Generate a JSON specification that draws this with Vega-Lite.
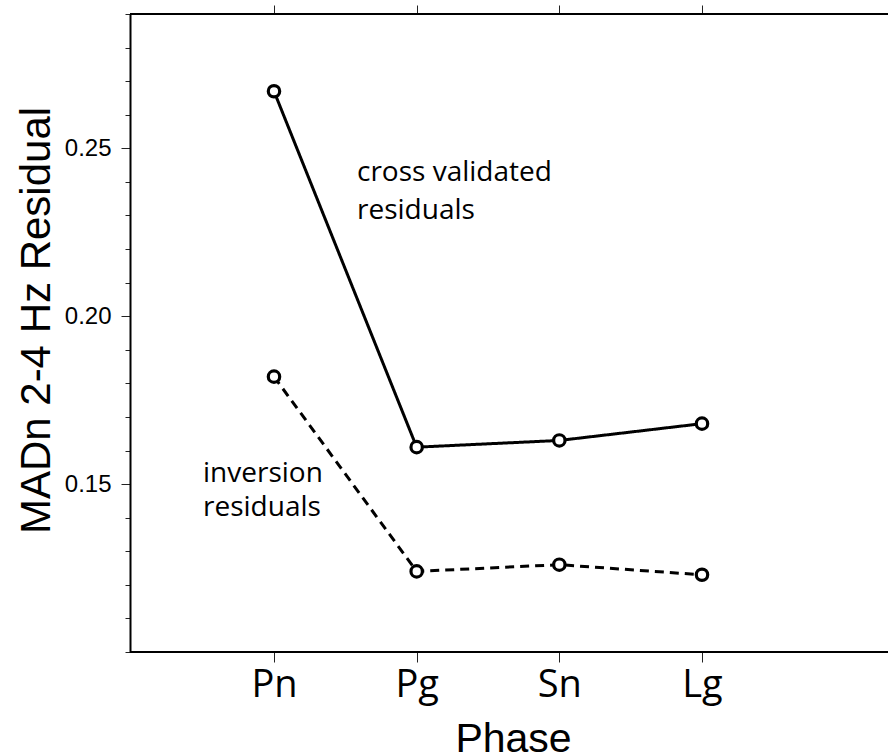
{
  "$schema": "https://vega.github.io/schema/vega-lite/v6.json",
  "autosize": {"type": "none"},
  "padding": {"left": 130, "top": 14, "right": 0, "bottom": 103},
  "width": 758,
  "height": 638,
  "background": "white",
  "config": {
    "view": {"stroke": null},
    "axis": {"domainColor": "black", "domainWidth": 2, "tickColor": "#222", "tickWidth": 1, "labelColor": "black", "titleColor": "black", "grid": false},
    "axisX": {"domain": false},
    "axisY": {
      "values": [0.10, 0.11, 0.12, 0.13, 0.14, 0.15, 0.16, 0.17, 0.18, 0.19, 0.20, 0.21, 0.22, 0.23, 0.24, 0.25, 0.26, 0.27, 0.28, 0.29],
      "labelOverlap": false,
      "labelFont": "Liberation Sans", "labelFontSize": 24, "labelPadding": 10,
      "titleFont": "Liberation Sans", "titleFontSize": 42, "titleFontWeight": "normal",
      "titleAngle": -90, "titleX": -81, "titleY": 306, "titleAlign": "center", "titleBaseline": "alphabetic"
    }
  },
  "datasets": {
    "series": [
      {"phase": "Pn", "value": 0.267, "series": "cross validated"},
      {"phase": "Pg", "value": 0.161, "series": "cross validated"},
      {"phase": "Sn", "value": 0.163, "series": "cross validated"},
      {"phase": "Lg", "value": 0.168, "series": "cross validated"},
      {"phase": "Pn", "value": 0.182, "series": "inversion"},
      {"phase": "Pg", "value": 0.124, "series": "inversion"},
      {"phase": "Sn", "value": 0.126, "series": "inversion"},
      {"phase": "Lg", "value": 0.123, "series": "inversion"}
    ],
    "notes": [
      {"phase": "Pn", "value": 0.2402, "series": "cross validated", "label": "cross validated\nresiduals"},
      {"phase": "Pn", "value": 0.1506, "series": "inversion", "label": "inversion\nresiduals"}
    ],
    "frame": [
      {"edge": "top", "value": 0.29},
      {"edge": "bottom", "value": 0.10}
    ]
  },
  "layer": [
    {
      "data": {"name": "frame"},
      "mark": {"type": "rule", "color": "black", "strokeWidth": 2},
      "encoding": {
        "y": {
          "field": "value", "type": "quantitative",
          "axis": {
            "title": "MADn 2-4 Hz Residual",
            "labelExpr": "indexof(['0.15','0.20','0.25'], format(datum.value, '.2f')) >= 0 ? format(datum.value, '.2f') : ''",
            "tickSize": {"condition": {"test": "indexof(['0.15','0.20','0.25'], format(datum.value, '.2f')) >= 0", "value": 9}, "value": 5}
          }
        }
      }
    },
    {
      "data": {"name": "series"},
      "mark": {"type": "line", "color": "black", "strokeWidth": 3},
      "encoding": {
        "x": {
          "field": "phase", "type": "ordinal", "sort": ["Pn", "Pg", "Sn", "Lg"],
          "scale": {"type": "point", "range": [144, 572], "padding": 0},
          "axis": {"orient": "bottom", "title": "Phase", "labelAngle": 0, "tickSize": 10,
            "labelFont": "Open Sans", "labelFontSize": 38, "labelPadding": 4,
            "titleFont": "Liberation Sans", "titleFontSize": 41, "titleFontWeight": "normal",
            "titleX": 383, "titleY": 99, "titleBaseline": "alphabetic"}
        },
        "y": {
          "field": "value", "type": "quantitative",
          "scale": {"domain": [0.10, 0.29], "nice": false, "zero": false},
          "axis": {
            "title": "MADn 2-4 Hz Residual",
            "labelExpr": "indexof(['0.15','0.20','0.25'], format(datum.value, '.2f')) >= 0 ? format(datum.value, '.2f') : ''",
            "tickSize": {"condition": {"test": "indexof(['0.15','0.20','0.25'], format(datum.value, '.2f')) >= 0", "value": 9}, "value": 5}
          }
        },
        "strokeDash": {
          "field": "series", "type": "nominal",
          "scale": {"domain": ["cross validated", "inversion"], "range": [[1, 0], [9, 6]]},
          "legend": null
        }
      }
    },
    {
      "data": {"name": "series"},
      "mark": {"type": "point", "shape": "circle", "filled": true, "fill": "white", "stroke": "black", "strokeWidth": 3.2, "size": 130, "opacity": 1},
      "encoding": {
        "x": {
          "field": "phase", "type": "ordinal", "sort": ["Pn", "Pg", "Sn", "Lg"],
          "axis": {"orient": "top", "labels": false, "title": null, "tickSize": 9}
        },
        "y": {
          "field": "value", "type": "quantitative",
          "axis": {
            "title": "MADn 2-4 Hz Residual",
            "labelExpr": "indexof(['0.15','0.20','0.25'], format(datum.value, '.2f')) >= 0 ? format(datum.value, '.2f') : ''",
            "tickSize": {"condition": {"test": "indexof(['0.15','0.20','0.25'], format(datum.value, '.2f')) >= 0", "value": 9}, "value": 5}
          }
        },
        "detail": {"field": "series"}
      }
    },
    {
      "data": {"name": "notes"},
      "transform": [{"filter": "datum.series == 'cross validated'"}],
      "mark": {"type": "text", "font": "Open Sans", "fontSize": 28, "align": "left", "baseline": "alphabetic", "lineBreak": "\n", "lineHeight": 38, "dx": 83, "color": "black"},
      "encoding": {
        "x": {"field": "phase", "type": "ordinal", "sort": ["Pn", "Pg", "Sn", "Lg"], "axis": null},
        "y": {
          "field": "value", "type": "quantitative",
          "axis": {
            "title": "MADn 2-4 Hz Residual",
            "labelExpr": "indexof(['0.15','0.20','0.25'], format(datum.value, '.2f')) >= 0 ? format(datum.value, '.2f') : ''",
            "tickSize": {"condition": {"test": "indexof(['0.15','0.20','0.25'], format(datum.value, '.2f')) >= 0", "value": 9}, "value": 5}
          }
        },
        "text": {"field": "label"}
      }
    },
    {
      "data": {"name": "notes"},
      "transform": [{"filter": "datum.series == 'inversion'"}],
      "mark": {"type": "text", "font": "Open Sans", "fontSize": 28, "align": "left", "baseline": "alphabetic", "lineBreak": "\n", "lineHeight": 34, "dx": -71, "color": "black"},
      "encoding": {
        "x": {"field": "phase", "type": "ordinal", "sort": ["Pn", "Pg", "Sn", "Lg"], "axis": null},
        "y": {
          "field": "value", "type": "quantitative",
          "axis": {
            "title": "MADn 2-4 Hz Residual",
            "labelExpr": "indexof(['0.15','0.20','0.25'], format(datum.value, '.2f')) >= 0 ? format(datum.value, '.2f') : ''",
            "tickSize": {"condition": {"test": "indexof(['0.15','0.20','0.25'], format(datum.value, '.2f')) >= 0", "value": 9}, "value": 5}
          }
        },
        "text": {"field": "label"}
      }
    }
  ],
  "resolve": {"axis": {"x": "independent"}}
}
